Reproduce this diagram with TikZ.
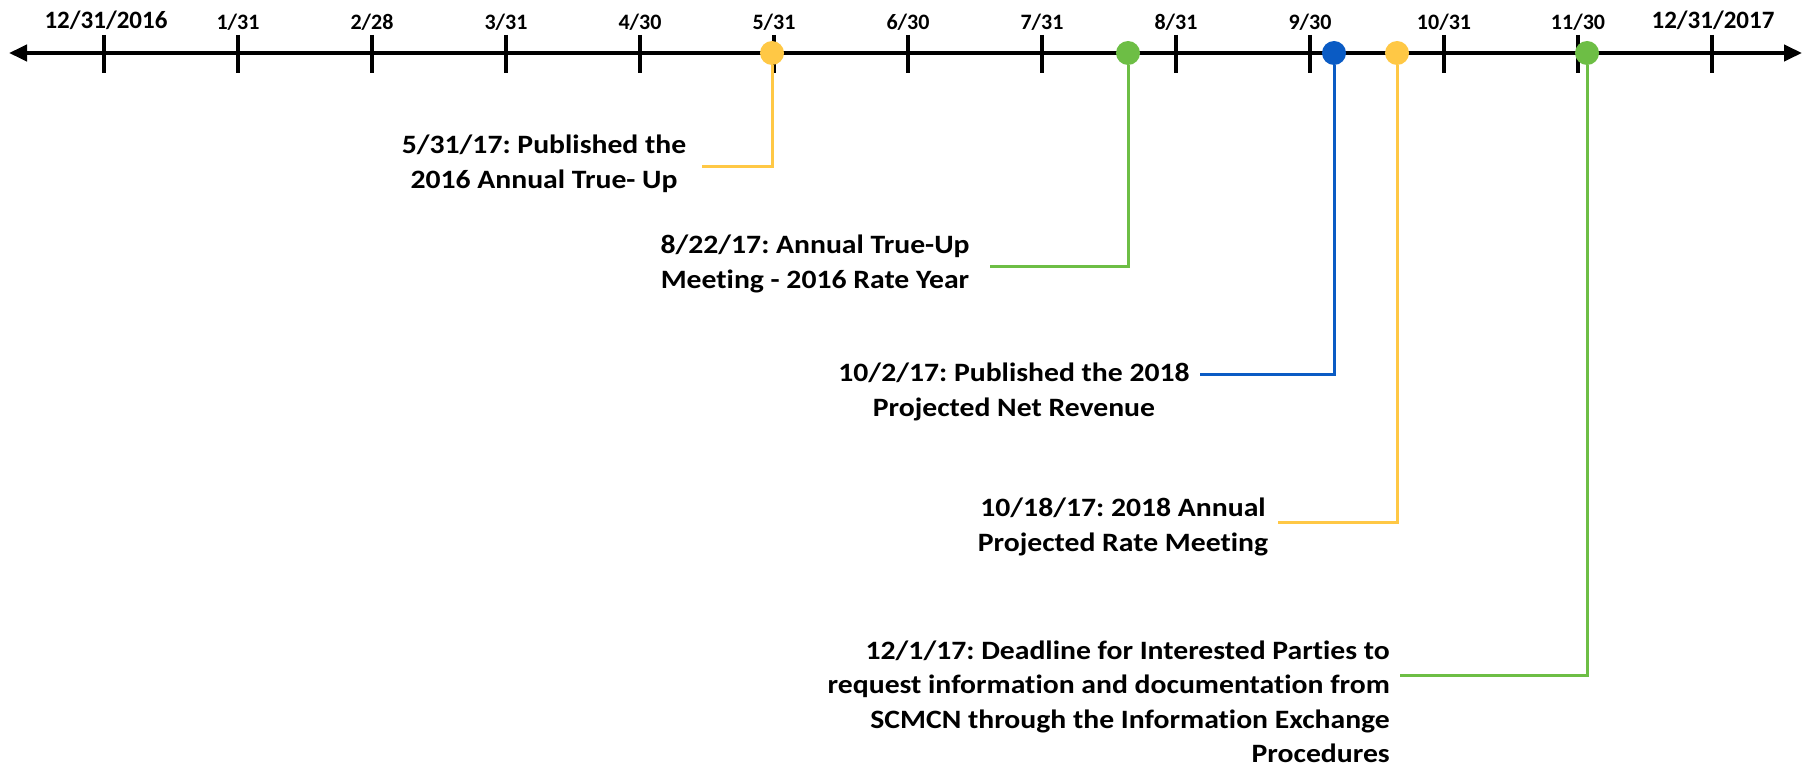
\documentclass[tikz,border=0pt]{standalone}
\usepackage{fontspec}
\setmainfont{Carlito}[Ligatures=NoCommon]
\newfontfamily\evfont{Carlito}[Ligatures=NoCommon,FakeStretch=1.12]
\usetikzlibrary{arrows.meta}
\definecolor{evyellow}{HTML}{FFC845}
\definecolor{evgreen}{HTML}{6DBE45}
\definecolor{evblue}{HTML}{0A5BC4}
\frenchspacing
\begin{document}
\begin{tikzpicture}[x=1pt,y=-1pt,
  axisline/.style={line width=4pt,{Triangle[length=18pt,width=16pt]}-{Triangle[length=18pt,width=16pt]}},
  tickmark/.style={line width=3.5pt},
  ticklabel/.style={font=\fontsize{22}{26}\selectfont\bfseries,inner sep=0pt},
  yearlabel/.style={font=\fontsize{25}{30}\selectfont\bfseries,inner sep=0pt},
  evdot/.style={circle,fill=#1,minimum size=24pt,inner sep=0pt},
  conn/.style={line width=3pt,draw=#1},
  evlabel/.style={font=\evfont\fontsize{26.5}{34.5}\selectfont\bfseries,align=center,inner sep=0pt}]
\path[use as bounding box] (0,0) rectangle (1806,765);
% axis
\coordinate (al) at (9,53);
\coordinate (ar) at (1802,53);
\draw[axisline] (al) -- (ar);
% ticks
\foreach \x in {104,238,372,506,640,774,908,1042,1176,1310,1444,1578,1712}
  \draw[tickmark] (\x,35) -- (\x,73);
\node[yearlabel] (t0) at (106,20) {12/31/2016};
\node[ticklabel] (t1) at (238,22) {1/31};
\node[ticklabel] (t2) at (372,22) {2/28};
\node[ticklabel] (t3) at (506,22) {3/31};
\node[ticklabel] (t4) at (640,22) {4/30};
\node[ticklabel] (t5) at (774,22) {5/31};
\node[ticklabel] (t6) at (908,22) {6/30};
\node[ticklabel] (t7) at (1042,22) {7/31};
\node[ticklabel] (t8) at (1176,22) {8/31};
\node[ticklabel] (t9) at (1310,22) {9/30};
\node[ticklabel] (t10) at (1444,22) {10/31};
\node[ticklabel] (t11) at (1578,22) {11/30};
\node[yearlabel] (t12) at (1713,20) {12/31/2017};
% event dots
\node[evdot=evyellow] (d1) at (772,53) {};
\node[evdot=evgreen] (d2) at (1128,53) {};
\node[evdot=evblue] (d3) at (1334,53) {};
\node[evdot=evyellow] (d4) at (1397,53) {};
\node[evdot=evgreen] (d5) at (1587,53) {};
% connector ends
\coordinate (e1) at (702,166);
\coordinate (e2) at (990,266);
\coordinate (e3) at (1200,374);
\coordinate (e4) at (1278,522);
\coordinate (e5) at (1400,675);
\draw[conn=evyellow] (d1) |- (e1);
\draw[conn=evgreen] (d2) |- (e2);
\draw[conn=evblue] (d3) |- (e3);
\draw[conn=evyellow] (d4) |- (e4);
\draw[conn=evgreen] (d5) |- (e5);
% labels
\node[evlabel] (l1) at (544,164) {5/31/17: Published the\\2016 Annual True- Up};
\node[evlabel] (l2) at (815,264) {8/22/17: Annual True-Up\\Meeting - 2016 Rate Year};
\node[evlabel] (l3) at (1014,392) {10/2/17: Published the 2018\\Projected Net Revenue};
\node[evlabel] (l4) at (1123,527) {10/18/17: 2018 Annual\\Projected Rate Meeting};
\node[evlabel,align=right,anchor=east] (l5) at (1390,702) {12/1/17: Deadline for Interested Parties to\\request information and documentation from\\SCMCN through the Information Exchange\\Procedures};
\end{tikzpicture}
\end{document}
